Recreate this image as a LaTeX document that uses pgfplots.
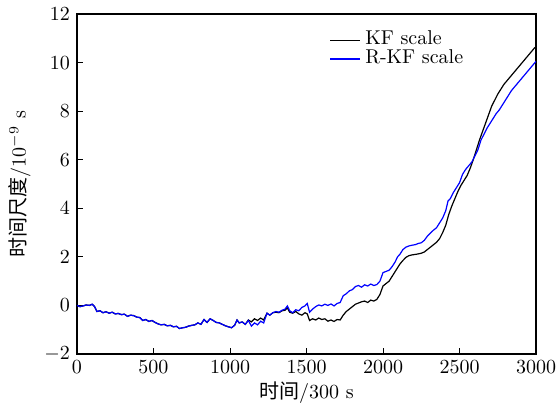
\documentclass[border=0pt]{standalone}
\usepackage{pgfplots}
\pgfplotsset{compat=1.18}
\usepackage{fontspec}
\newfontfamily\cjk{Noto Sans CJK SC}
\newcommand{\legline}[1]{\textcolor{#1}{\rule[1.85pt]{15pt}{0.6pt}}\hspace{2.5pt}}
\begin{document}
\begin{tikzpicture}
\begin{axis}[
  scale only axis,
  width=229.5pt, height=170pt,
  xmin=0, xmax=3000, ymin=-2, ymax=12,
  xtick={0,500,...,3000}, ytick={-2,0,...,12},
  tick align=inside, tick pos=left,
  major tick length=3pt,
  axis line style={line width=0.6pt},
  every tick/.style={black, line width=0.5pt},
  scaled x ticks=false,
  xticklabel style={/pgf/number format/1000 sep={}},
  xlabel={{\cjk 时间}/300 s},
  ylabel={{\cjk 时间尺度}/10$^{-9}$ s},
  xlabel style={yshift=3pt},
  ylabel style={yshift=0pt},
  legend style={draw=none, fill=none, at={(rel axis cs:0.551,0.964)}, anchor=north west, font=\normalsize, row sep=-3pt, inner sep=0pt, column sep=0pt, nodes={inner xsep=0pt}},
  legend cell align=left,
  legend image code/.code={},
]
\addplot[color=black, line width=0.6pt] coordinates {
(0,0.00)(20,-0.05)(40,-0.02)(60,0.02)(80,0.00)(100,0.05)(115,-0.05)(130,-0.25)(150,-0.22)(170,-0.30)(190,-0.26)(210,-0.32)(230,-0.28)(250,-0.35)(270,-0.33)(290,-0.38)(310,-0.36)(330,-0.45)(350,-0.40)(370,-0.42)(390,-0.48)(410,-0.50)(430,-0.62)(450,-0.58)(470,-0.66)(490,-0.62)(510,-0.70)(530,-0.76)(550,-0.80)(570,-0.78)(590,-0.84)(610,-0.82)(630,-0.88)(650,-0.86)(670,-0.95)(690,-0.92)(710,-0.90)(730,-0.85)(750,-0.82)(770,-0.80)(790,-0.72)(810,-0.78)(830,-0.58)(850,-0.70)(870,-0.55)(890,-0.62)(910,-0.70)(930,-0.72)(950,-0.78)(970,-0.84)(990,-0.88)(1010,-0.92)(1030,-0.82)(1046,-0.60)(1060,-0.72)(1080,-0.68)(1100,-0.78)
(1120,-0.60)(1140,-0.68)(1160,-0.55)(1180,-0.62)(1200,-0.52)(1220,-0.60)(1242,-0.32)(1260,-0.40)(1280,-0.30)(1300,-0.28)(1320,-0.30)(1340,-0.22)(1360,-0.20)(1375,-0.10)(1390,-0.28)(1410,-0.32)(1430,-0.25)(1450,-0.35)(1470,-0.40)(1490,-0.30)(1505,-0.35)(1520,-0.62)(1540,-0.55)(1560,-0.60)(1580,-0.52)(1600,-0.58)(1620,-0.55)(1640,-0.65)(1660,-0.60)(1680,-0.66)(1700,-0.58)(1720,-0.60)(1740,-0.40)(1760,-0.25)(1780,-0.15)(1800,-0.05)(1820,0.05)(1840,0.10)(1860,0.15)(1880,0.18)(1900,0.12)(1920,0.22)(1940,0.18)(1960,0.25)(1980,0.45)(2000,0.80)(2020,0.90)(2040,1.00)(2060,1.20)(2080,1.40)(2095,1.55)(2110,1.70)(2130,1.85)(2150,1.98)(2170,2.05)(2190,2.08)(2210,2.10)(2230,2.12)(2250,2.15)(2270,2.20)(2290,2.30)(2310,2.40)(2330,2.50)(2350,2.60)(2370,2.75)(2390,3.00)(2410,3.30)(2430,3.75)(2450,4.10)(2470,4.40)(2490,4.70)(2510,4.95)(2530,5.15)(2550,5.35)(2570,5.65)(2590,6.00)(2610,6.40)(2630,6.80)(2650,7.15)(2670,7.50)(2690,7.85)(2710,8.20)(2730,8.45)(2750,8.70)(2770,8.90)(2790,9.10)(2810,9.25)(2830,9.40)(2850,9.55)(2870,9.70)(2890,9.85)(2910,10.00)(2930,10.15)(2950,10.30)(2970,10.45)(2990,10.60)(3000,10.65)
};
\addlegendentry{\legline{black}KF scale}
\addplot[color=blue, line width=0.6pt] coordinates {
(0,0.00)(20,-0.05)(40,-0.02)(60,0.02)(80,0.00)(100,0.05)(115,-0.05)(130,-0.25)(150,-0.22)(170,-0.30)(190,-0.26)(210,-0.32)(230,-0.28)(250,-0.35)(270,-0.33)(290,-0.38)(310,-0.36)(330,-0.45)(350,-0.40)(370,-0.42)(390,-0.48)(410,-0.50)(430,-0.62)(450,-0.58)(470,-0.66)(490,-0.62)(510,-0.70)(530,-0.76)(550,-0.80)(570,-0.78)(590,-0.84)(610,-0.82)(630,-0.88)(650,-0.86)(670,-0.95)(690,-0.92)(710,-0.90)(730,-0.85)(750,-0.82)(770,-0.80)(790,-0.72)(810,-0.78)(830,-0.58)(850,-0.70)(870,-0.55)(890,-0.62)(910,-0.70)(930,-0.72)(950,-0.78)(970,-0.84)(990,-0.88)(1010,-0.92)(1030,-0.82)(1046,-0.60)(1060,-0.72)(1080,-0.68)(1100,-0.78)
(1120,-0.62)(1140,-0.85)(1160,-0.72)(1180,-0.80)(1200,-0.65)(1220,-0.72)(1242,-0.32)(1260,-0.40)(1280,-0.30)(1300,-0.25)(1320,-0.28)(1340,-0.20)(1360,-0.15)(1375,-0.02)(1390,-0.22)(1410,-0.30)(1430,-0.18)(1450,-0.22)(1470,-0.08)(1490,-0.02)(1505,0.08)(1520,-0.28)(1540,-0.15)(1560,-0.05)(1580,0.02)(1600,-0.02)(1620,0.05)(1640,0.00)(1660,0.06)(1680,-0.02)(1700,0.08)(1720,0.12)(1740,0.40)(1760,0.48)(1780,0.60)(1800,0.65)(1820,0.78)(1840,0.82)(1860,0.75)(1880,0.85)(1900,0.80)(1920,0.88)(1940,0.82)(1960,0.86)(1980,1.00)(2000,1.35)(2020,1.40)(2040,1.45)(2060,1.60)(2080,1.80)(2095,2.00)(2110,2.10)(2130,2.30)(2150,2.40)(2170,2.45)(2190,2.48)(2210,2.50)(2230,2.55)(2250,2.58)(2270,2.68)(2290,2.85)(2310,2.98)(2330,3.10)(2350,3.20)(2370,3.40)(2390,3.60)(2410,3.90)(2425,4.30)(2440,4.40)(2460,4.65)(2480,4.85)(2500,5.05)(2520,5.40)(2540,5.60)(2560,5.75)(2580,5.90)(2600,6.15)(2620,6.40)(2640,6.80)(2660,7.05)(2680,7.30)(2700,7.50)(2720,7.70)(2740,7.90)(2760,8.05)(2780,8.25)(2800,8.45)(2820,8.65)(2840,8.85)(2860,9.00)(2880,9.15)(2900,9.30)(2920,9.45)(2940,9.60)(2960,9.75)(2980,9.90)(3000,10.05)
};
\addlegendentry{\legline{blue}R-KF scale}
\end{axis}
\path (current axis.south west) ++(-38.5pt,-26pt) coordinate (bbA);
\path (current axis.north east) ++(10.5pt,7pt) coordinate (bbB);
\pgfresetboundingbox
\path (bbA) rectangle (bbB);
\end{tikzpicture}
\end{document}
